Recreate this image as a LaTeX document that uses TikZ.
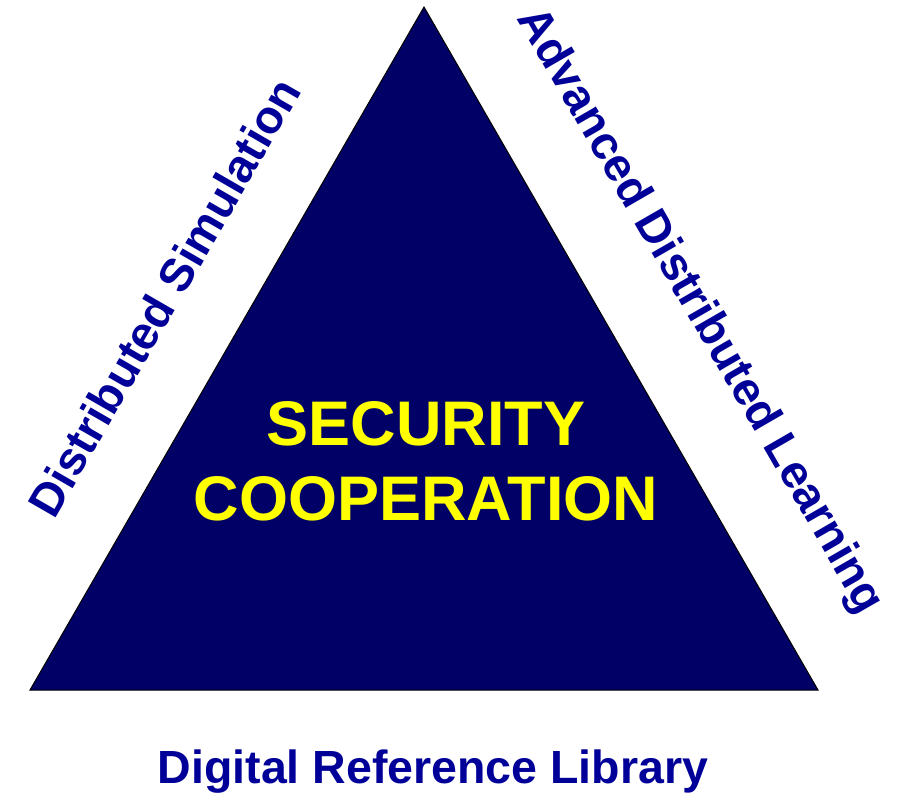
\documentclass[tikz,border=0pt]{standalone}
\usepackage{fontspec}
\setmainfont{Liberation Sans}
\usepackage{tikz}
\usetikzlibrary{positioning}
\definecolor{navyfill}{RGB}{0,0,102}
\definecolor{labelblue}{RGB}{0,0,153}
\definecolor{titleyellow}{RGB}{255,255,0}

\begin{document}
\begin{tikzpicture}[x=1pt,y=1pt,yscale=-1,xscale=1,
    sidelabel/.style={text=labelblue,font=\fontsize{46.5}{52}\selectfont\bfseries,inner sep=0pt},
    title/.style={text=titleyellow,font=\fontsize{63}{75}\selectfont\bfseries,align=center,inner sep=0pt}]
        \useasboundingbox (0,0) rectangle (901,798);
        \coordinate (apex) at (424,7);
        \coordinate (bl) at (30,690);
        \coordinate (br) at (818,690);
        \draw [fill=navyfill,line width=1pt] (apex) -- (br) -- (bl) -- cycle ;

        \node [title] (core) at (426,461) {SECURITY\\COOPERATION};
        \node [sidelabel,rotate=60] (sim) at (164,297) {Distributed Simulation};
        \node [sidelabel,rotate=-60] (adl) at (699,311) {Advanced Distributed Learning};
        \node [sidelabel] (drl) at (433,772) {Digital Reference Library};
    \end{tikzpicture}
\end{document}
